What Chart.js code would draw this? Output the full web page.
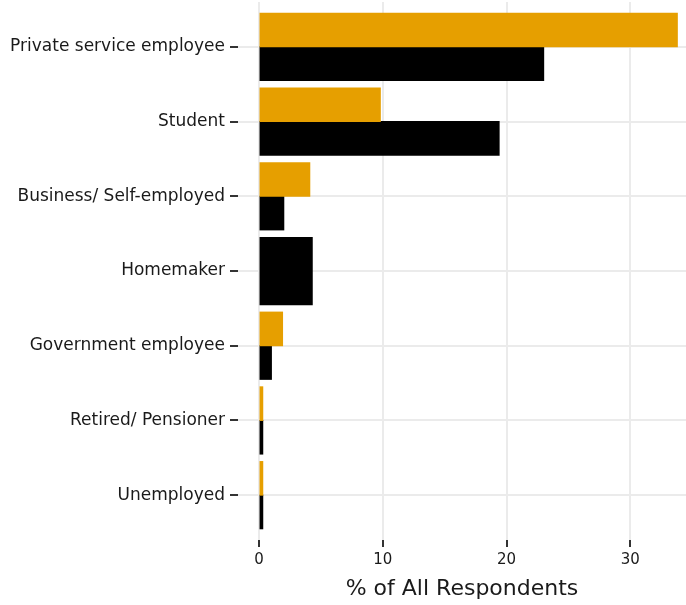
<!DOCTYPE html>
<html>
<head>
<meta charset="utf-8">
<script src="https://cdn.jsdelivr.net/npm/chart.js@4"></script>
<style>
  html, body { margin: 0; padding: 0; background: #fff; }
  #wrap { width: 686px; height: 605px; }
</style>
</head>
<body>
<div id="wrap"><canvas id="myChart" width="686" height="605"></canvas></div>
<script>
// occupation categories, top to bottom
const categories = [
  'Private service employee',
  'Student',
  'Business/ Self-employed',
  'Homemaker',
  'Government employee',
  'Retired/ Pensioner',
  'Unemployed'
];

// % of all respondents (orange group, black group)
const orangeValues = [33.8, 9.8, 4.1, null, 1.9, 0.3, 0.3];
const blackValues = [23.0, 19.4, 2.0, 4.3, 1.0, 0.3, 0.3];

const xTicks = [0, 10, 20, 30];

const fontFamily = "'DejaVu Sans', 'Noto Sans', sans-serif";

const ctx = document.getElementById('myChart').getContext('2d');

new Chart(ctx, {
  type: 'bar',
  data: {
    labels: categories,
    datasets: [
      {
        label: 'Group A',
        data: orangeValues,
        backgroundColor: '#E69F00',
        borderWidth: 0,
        inflateAmount: 0.5,
        categoryPercentage: 0.9,
        barPercentage: 1.0,
        skipNull: true
      },
      {
        label: 'Group B',
        data: blackValues,
        backgroundColor: '#000000',
        borderWidth: 0,
        inflateAmount: 0.5,
        categoryPercentage: 0.9,
        barPercentage: 1.0,
        skipNull: true
      }
    ]
  },
  options: {
    indexAxis: 'y',
    responsive: false,
    animation: false,
    layout: { autoPadding: false, padding: { top: 2, right: 0, bottom: 0, left: 0 } },
    plugins: {
      legend: { display: false },
      tooltip: { enabled: false }
    },
    scales: {
      x: {
        min: -1.7,
        max: 34.5,
        afterBuildTicks: axis => {
          axis.ticks = xTicks.map(v => ({ value: v }));
        },
        afterFit: axis => {
          axis.height = 65;
          axis.paddingLeft = 0;
          axis.paddingRight = 0;
        },
        border: { display: false },
        grid: {
          color: '#EBEBEB',
          lineWidth: 2,
          drawTicks: true,
          tickLength: 7,
          tickColor: '#333333',
          tickWidth: 2
        },
        ticks: {
          color: '#1a1a1a',
          padding: 4,
          font: { family: fontFamily, size: 15 }
        },
        title: {
          display: true,
          text: '% of All Respondents',
          color: '#1a1a1a',
          padding: { top: 0, bottom: 3 },
          font: { family: fontFamily, size: 22 }
        }
      },
      y: {
        offset: true,
        afterBuildTicks: axis => {
          // ggplot-like discrete expansion (0.6 of a category each side)
          axis._startValue = -0.6;
          axis._valueRange = categories.length - 1 + 1.2;
        },
        afterFit: axis => {
          axis.width = 238;
          axis.paddingTop = 0;
          axis.paddingBottom = 0;
        },
        border: { display: false },
        grid: {
          offset: false,
          color: '#EBEBEB',
          lineWidth: 2,
          drawTicks: true,
          tickLength: 8,
          tickColor: '#333333',
          tickWidth: 2
        },
        ticks: {
          color: '#1a1a1a',
          padding: 5,
          font: { family: fontFamily, size: 17 }
        }
      }
    }
  }
});
</script>
</body>
</html>
